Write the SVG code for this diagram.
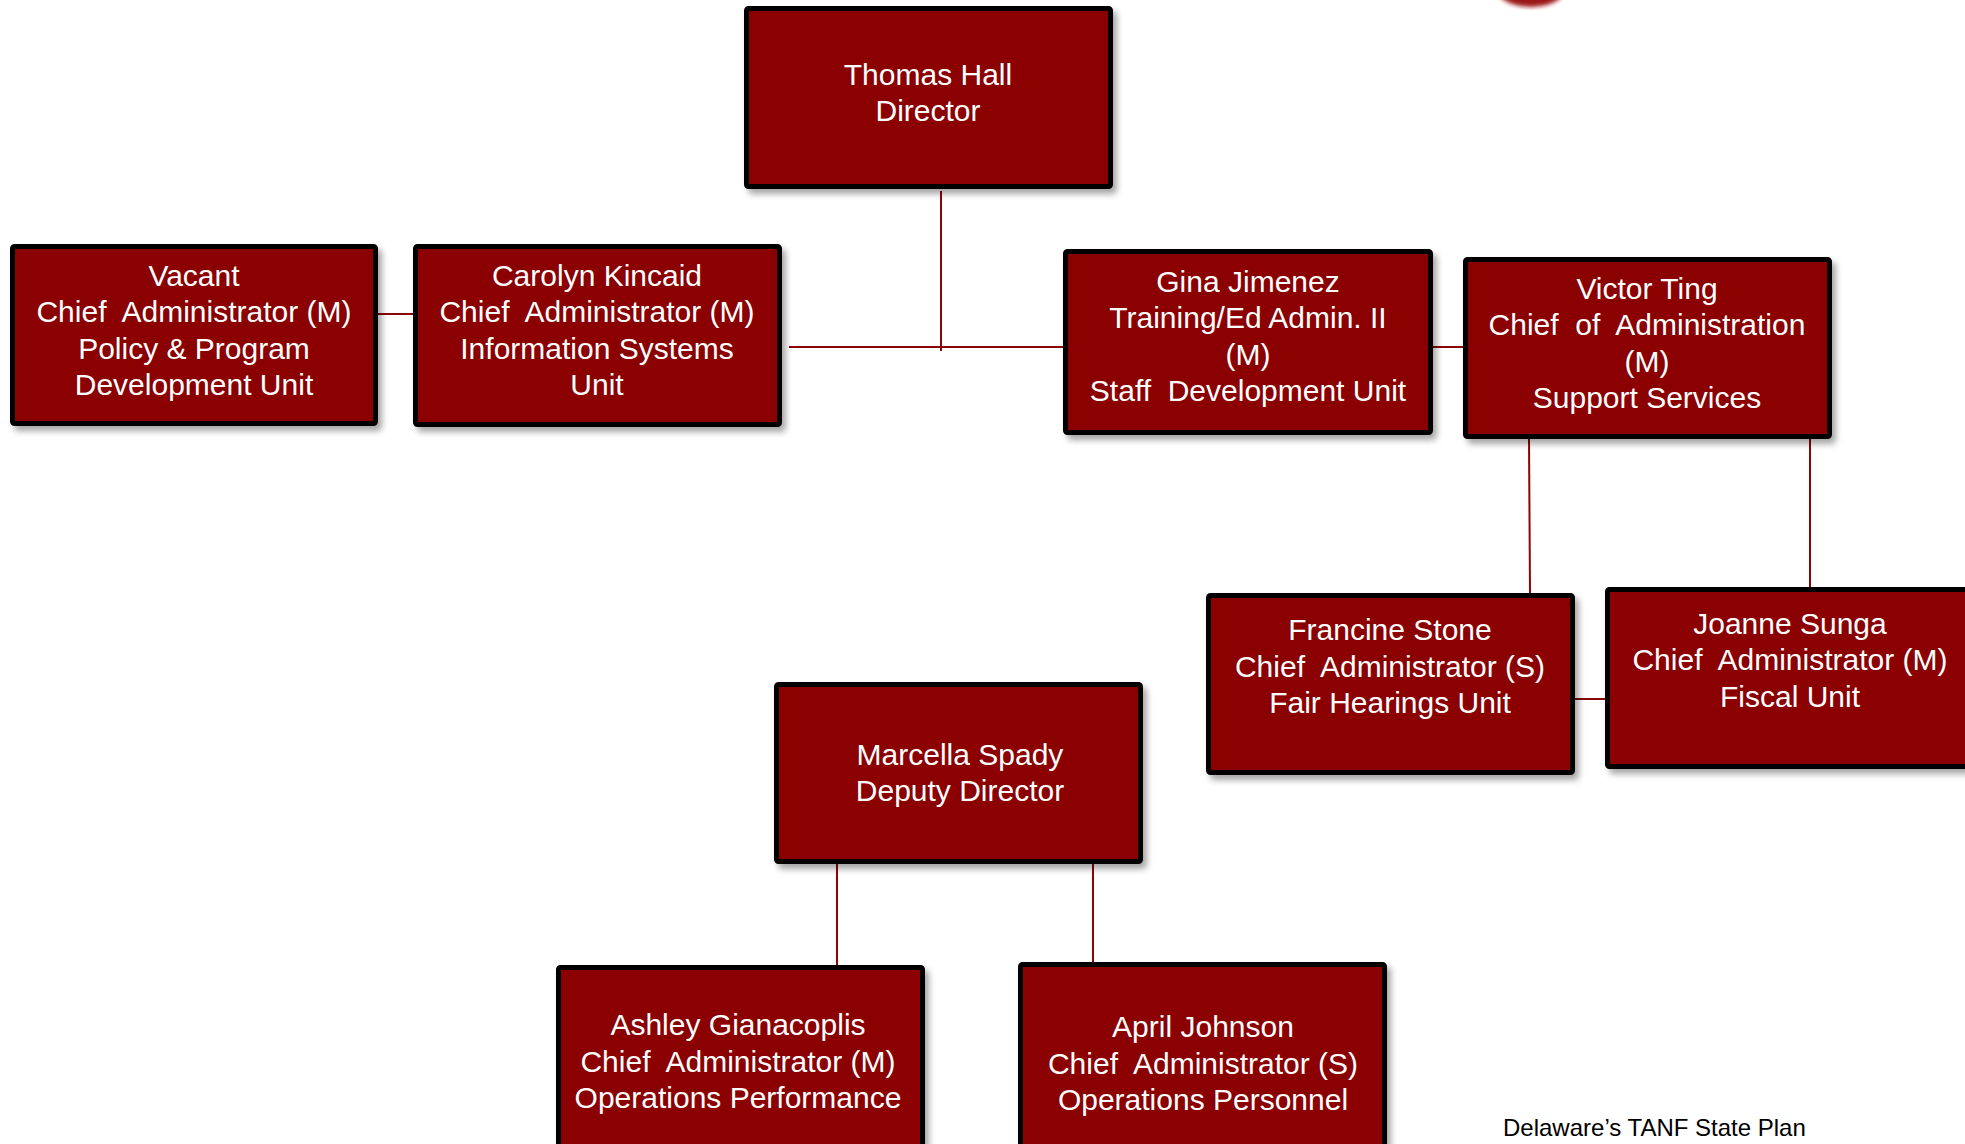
<svg xmlns="http://www.w3.org/2000/svg" width="1965" height="1144" viewBox="0 0 1965 1144">
<style>
.box{fill:#8B0505;stroke:#000;stroke-width:5;filter:url(#sh)}
.t{font-family:"Liberation Sans",Arial,sans-serif;font-size:30px;fill:#fff;text-anchor:middle;white-space:pre}
.c{stroke:#8B0505;stroke-width:2;fill:none}
.foot{font-family:"Liberation Sans",Arial,sans-serif;font-size:24px;fill:#000}
</style>
<defs>
<filter id="sh" x="-10%" y="-10%" width="130%" height="130%">
<feDropShadow dx="4" dy="5" stdDeviation="3" flood-color="#000" flood-opacity="0.35"/>
</filter>
<filter id="blur"><feGaussianBlur stdDeviation="2"/></filter>
</defs>
<rect width="1965" height="1144" fill="#fff"/>
<ellipse cx="1531" cy="-8" rx="32" ry="15" fill="#9B1515" filter="url(#blur)"/>

<g id="connectors">
<line class="c" x1="941" y1="191" x2="941" y2="351"/>
<line class="c" x1="789" y1="347" x2="1064" y2="347"/>
<line class="c" x1="378" y1="314" x2="413" y2="314"/>
<line class="c" x1="1433" y1="347" x2="1463" y2="347"/>
<line class="c" x1="1529" y1="439" x2="1530" y2="593"/>
<line class="c" x1="1810" y1="439" x2="1810" y2="587"/>
<line class="c" x1="1575" y1="699" x2="1605" y2="699"/>
<line class="c" x1="837" y1="864" x2="837" y2="968"/>
<line class="c" x1="1093" y1="864" x2="1093" y2="964"/>
</g>

<g id="thomas">
<rect class="box" x="746.5" y="8.5" width="364" height="178" rx="2"/>
<text class="t" x="928" y="85">Thomas Hall</text>
<text class="t" x="928" y="121">Director</text>
</g>
<g id="vacant">
<rect class="box" x="12.5" y="246.5" width="363" height="177" rx="2"/>
<text class="t" x="194" y="285.5">Vacant</text>
<text class="t" x="194" y="322">Chief  Administrator (M)</text>
<text class="t" x="194" y="358.5">Policy &amp; Program</text>
<text class="t" x="194" y="395">Development Unit</text>
</g>
<g id="carolyn">
<rect class="box" x="415.5" y="246.5" width="364" height="178" rx="2"/>
<text class="t" x="597" y="285.5">Carolyn Kincaid</text>
<text class="t" x="597" y="322">Chief  Administrator (M)</text>
<text class="t" x="597" y="358.5">Information Systems</text>
<text class="t" x="597" y="395">Unit</text>
</g>
<g id="gina">
<rect class="box" x="1065.5" y="251.5" width="365" height="181" rx="2"/>
<text class="t" x="1248" y="291.5">Gina Jimenez</text>
<text class="t" x="1248" y="328">Training/Ed Admin. II</text>
<text class="t" x="1248" y="364.5">(M)</text>
<text class="t" x="1248" y="401">Staff  Development Unit</text>
</g>
<g id="victor">
<rect class="box" x="1465.5" y="259.5" width="364" height="177" rx="2"/>
<text class="t" x="1647" y="298.5">Victor Ting</text>
<text class="t" x="1647" y="335">Chief  of  Administration</text>
<text class="t" x="1647" y="371.5">(M)</text>
<text class="t" x="1647" y="408">Support Services</text>
</g>
<g id="francine">
<rect class="box" x="1208.5" y="595.5" width="364" height="177" rx="2"/>
<text class="t" x="1390" y="640">Francine Stone</text>
<text class="t" x="1390" y="676.5">Chief  Administrator (S)</text>
<text class="t" x="1390" y="713">Fair Hearings Unit</text>
</g>
<g id="joanne">
<rect class="box" x="1607.5" y="589.5" width="364" height="177" rx="2"/>
<text class="t" x="1790" y="633.5">Joanne Sunga</text>
<text class="t" x="1790" y="670">Chief  Administrator (M)</text>
<text class="t" x="1790" y="706.5">Fiscal Unit</text>
</g>
<g id="marcella">
<rect class="box" x="776.5" y="684.5" width="364" height="177" rx="2"/>
<text class="t" x="960" y="764.5">Marcella Spady</text>
<text class="t" x="960" y="801">Deputy Director</text>
</g>
<g id="ashley">
<rect class="box" x="558.5" y="967.5" width="364" height="190" rx="2"/>
<text class="t" x="738" y="1035">Ashley Gianacoplis</text>
<text class="t" x="738" y="1071.5">Chief  Administrator (M)</text>
<text class="t" x="738" y="1108">Operations Performance</text>
</g>
<g id="april">
<rect class="box" x="1020.5" y="964.5" width="364" height="190" rx="2"/>
<text class="t" x="1203" y="1037">April Johnson</text>
<text class="t" x="1203" y="1073.5">Chief  Administrator (S)</text>
<text class="t" x="1203" y="1110">Operations Personnel</text>
</g>
<text class="foot" x="1503" y="1136">Delaware’s TANF State Plan</text>
</svg>
